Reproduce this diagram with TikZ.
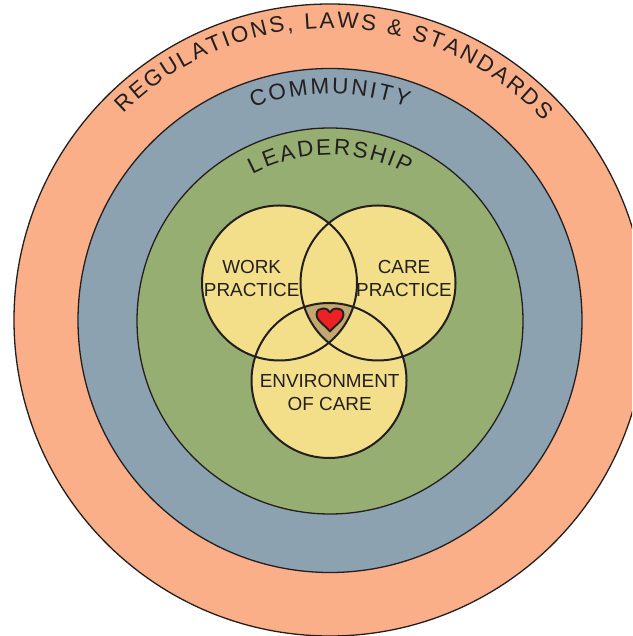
\documentclass[tikz,border=0pt]{standalone}
\usepackage{fontspec}
\setmainfont{Liberation Sans}
\usetikzlibrary{decorations.text,calc}
\definecolor{ringorange}{HTML}{FBAF88}
\definecolor{ringblue}{HTML}{8CA2B0}
\definecolor{ringgreen}{HTML}{97AE73}
\definecolor{venn}{HTML}{F3DF8A}
\definecolor{tan}{HTML}{C2A76E}
\definecolor{heartred}{HTML}{ED2024}
\definecolor{ink}{HTML}{231F20}
\tikzset{
  ring/.style={circle,draw=ink,line width=1.3pt,inner sep=0pt,outer sep=0pt},
  ventline/.style={circle,draw=ink,line width=2pt,inner sep=0pt,outer sep=0pt,minimum size=155pt},
  vennlabel/.style={text=ink,align=center,inner sep=0pt,font=\fontsize{18.9}{22.7}\selectfont},
  arclabel/.style={decorate,decoration={text along path,text color=ink,text align={fit to path}}}
}
\begin{document}
\begin{tikzpicture}[x=1pt,y=1pt]
\useasboundingbox (0,0) rectangle (632,636);
\begin{scope}
\clip (0,0) rectangle (632,636);
\coordinate (c) at (330,316);
\coordinate (w) at (279.5,353);
\coordinate (k) at (378,353);
\coordinate (e) at (329,255.5);
\node[ring,fill=ringorange,minimum size=632pt] (outer) at (c) {};
\node[ring,fill=ringblue,minimum size=504pt] (community) at (330,315.5) {};
\node[ring,fill=ringgreen,minimum size=386pt] (leadership) at (330,315) {};
\fill[venn] (w) circle[radius=77.5];
\fill[venn] (k) circle[radius=77.5];
\fill[venn] (e) circle[radius=77.5];
\begin{scope}
\clip (w) circle[radius=77.5];
\clip (k) circle[radius=77.5];
\fill[tan] (e) circle[radius=77.5];
\end{scope}
\node[ventline] (work) at (w) {};
\node[ventline] (care) at (k) {};
\node[ventline] (env) at (e) {};
\draw[ink,fill=heartred,line width=1.9pt,line join=round]
  (330,304.5) .. controls (326,310) and (316.5,315) .. (316.5,321.5)
  .. controls (316.5,326) and (320,327.5) .. (323,327.5)
  .. controls (326.5,327.5) and (329,326) .. (330,323.5)
  .. controls (331,326) and (333.5,327.5) .. (337,327.5)
  .. controls (340,327.5) and (343.5,326) .. (343.5,321.5)
  .. controls (343.5,315) and (334,310) .. (330,304.5) -- cycle;
\node[vennlabel] (worklabel) at (251.7,357.7) {WORK\\PRACTICE};
\node[vennlabel] (carelabel) at (404,357.7) {CARE\\PRACTICE};
\node[vennlabel] (envlabel) at (329.7,243.7) {ENVIRONMENT\\OF CARE};
\path[arclabel,decoration={text={|\fontsize{22.5}{26}\selectfont|REGULATIONS, LAWS {\&} STANDARDS}}]
  ($(c)+(135:292)$) arc[start angle=135,end angle=43,radius=292];
\path[arclabel,decoration={text={|\fontsize{22.5}{26}\selectfont|COMMUNITY}}]
  ($(c)+(110:226)$) arc[start angle=110,end angle=70,radius=226];
\path[arclabel,decoration={text={|\fontsize{22.5}{26}\selectfont|LEADERSHIP}}]
  ($(c)+(118:165)$) arc[start angle=118,end angle=62,radius=165];
\end{scope}
\end{tikzpicture}
\end{document}
